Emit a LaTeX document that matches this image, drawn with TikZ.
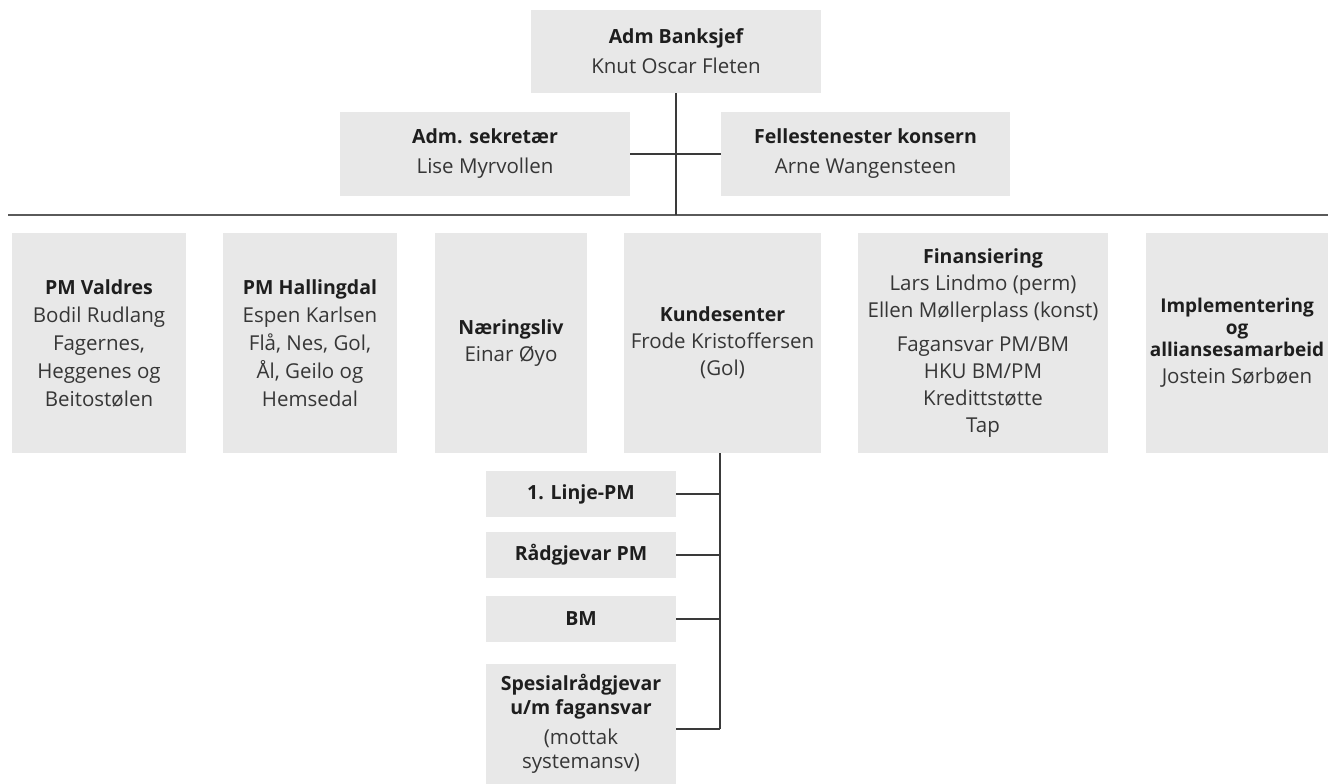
\documentclass[tikz,border=0pt]{standalone}
\usepackage{fontspec}
\setmainfont{Open Sans}
\definecolor{boxgray}{HTML}{E8E8E8}
\definecolor{txt}{HTML}{363636}
\definecolor{hdr}{HTML}{1E1E1E}
\definecolor{linec}{HTML}{3A3A3A}
\definecolor{busc}{HTML}{5A5A5A}
\newcommand\hdr[1]{{\fontsize{19.5}{27}\selectfont\bfseries\color{hdr}#1}}
\newcommand\hdrs[1]{{\fontsize{19}{27}\selectfont\bfseries\color{hdr}#1}}
\begin{document}
\begin{tikzpicture}[x=1pt,y=-1pt,
  box/.style={fill=boxgray, inner sep=0pt, align=center, text=txt,
    font=\fontsize{20.5}{27}\selectfont},
  conn/.style={draw=linec, line width=1.4pt},
  busline/.style={draw=busc, line width=2.4pt}]
\useasboundingbox (0,0) rectangle (1328,784);
\clip (0,0) rectangle (1328,784);

% top level
\node[box, minimum width=290pt, minimum height=83pt] (top) at (676,51.5)
  {\hdr{Adm Banksjef}\\[3pt]Knut Oscar Fleten};
\node[box, minimum width=290pt, minimum height=84pt] (sek) at (485,154)
  {\hdr{Adm. sekretær}\\[3pt]Lise Myrvollen};
\node[box, minimum width=289pt, minimum height=84pt] (fel) at (865.5,154)
  {\hdr{Fellestenester konsern}\\[3pt]Arne Wangensteen};

% bus
\coordinate (busL) at (8,215);
\coordinate (busR) at (1328,215);
\draw[busline] (busL) -- (busR);
\draw[conn] (top.south) -- (top.south |- busL);
\draw[conn] (sek.east) -- (fel.west);

% second row
\node[box, minimum width=174pt, minimum height=220pt] (val) at (99,343)
  {\hdr{PM Valdres}\\[1pt]Bodil Rudlang\\[1pt]Fagernes,\\[1pt]Heggenes og\\[1pt]Beitostølen};
\node[box, minimum width=174pt, minimum height=220pt] (hal) at (310,343)
  {\hdr{PM Hallingdal}\\[1pt]Espen Karlsen\\[1pt]Flå, Nes, Gol,\\[1pt]Ål, Geilo og\\[1pt]Hemsedal};
\node[box, minimum width=152pt, minimum height=220pt] (nae) at (511,343)
  {\hdr{Næringsliv}\\Einar Øyo};
\node[box, minimum width=197pt, minimum height=220pt] (kun) at (722.5,343)
  {\hdr{Kundesenter}\\Frode Kristoffersen\\(Gol)};
\node[box, minimum width=250pt, minimum height=220pt] (fin) at (983,343)
  {\hdr{Finansiering}\\Lars Lindmo (perm)\\Ellen Møllerplass (konst)\\[7pt]Fagansvar PM/BM\\HKU BM/PM\\Kredittstøtte\\Tap};
\node[box, minimum width=182pt, minimum height=220pt] (imp) at (1237,343)
  {\hdrs{Implementering}\\[-5pt]\hdrs{og}\\[-5pt]\hdrs{alliansesamarbeid}\\[0pt]Jostein Sørbøen};

% sub boxes of Kundesenter
\node[box, minimum width=190pt, minimum height=46pt] (s1) at (581,494) {\hdr{1. Linje-PM}};
\node[box, minimum width=190pt, minimum height=46pt] (s2) at (581,555) {\hdr{Rådgjevar PM}};
\node[box, minimum width=190pt, minimum height=46pt] (s3) at (581,619) {\hdr{BM}};
\node[box, minimum width=190pt, minimum height=120pt] (s4) at (581,724)
  {\hdr{Spesialrådgjevar}\\[-3pt]\hdr{u/m fagansvar}\\[3pt](mottak\\[-3pt]systemansv)};

\coordinate (kvt) at (720,453);
\coordinate (kvb) at (720,729);
\draw[conn] (kvt) -- (kvb);
\draw[conn] (s1.east) -- (s1.east -| kvt);
\draw[conn] (s2.east) -- (s2.east -| kvt);
\draw[conn] (s3.east) -- (s3.east -| kvt);
\draw[conn] (s4.east |- kvb) -- (kvb);
\end{tikzpicture}
\end{document}
